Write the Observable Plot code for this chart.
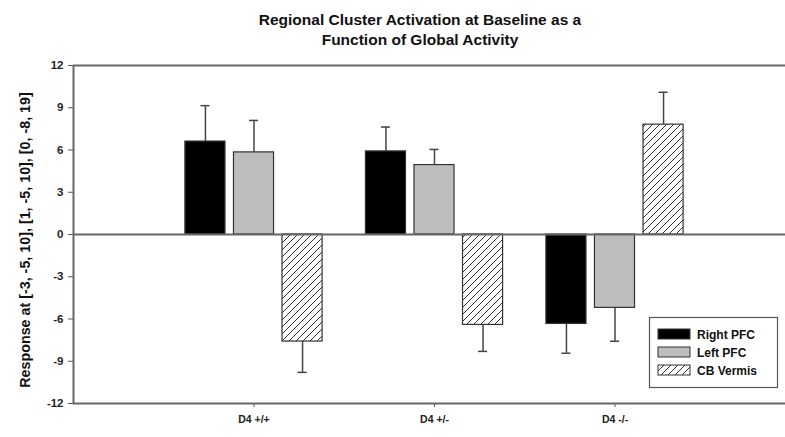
<!DOCTYPE html>
<html>
<head>
<meta charset="utf-8">
<script src="https://cdn.jsdelivr.net/npm/d3@7"></script>
<script src="https://cdn.jsdelivr.net/npm/@observablehq/plot@0.6"></script>
<style>
  body { margin: 0; background: #fff; }
  #chart svg { display: block; }
</style>
</head>
<body>
<div id="chart"></div>
<script>
const categories = ["D4 +/+", "D4 +/-", "D4 -/-"];
const series = ["Right PFC", "Left PFC", "CB Vermis"];
const rightPFC = [6.6, 5.9, -6.35];
const rightPFCErr = [2.55, 1.73, 2.08];
const leftPFC = [5.83, 4.93, -5.21];
const leftPFCErr = [2.27, 1.11, 2.37];
const cbVermis = [-7.6, -6.42, 7.8];
const cbVermisErr = [2.19, 1.88, 2.3];
const yTicks = [-12, -9, -6, -3, 0, 3, 6, 9, 12];
const title = ["Regional Cluster Activation at Baseline as a", "Function of Global Activity"];
const yLabel = "Response at [-3, -5, 10], [1, -5, 10], [0, -8, 19]";

const fills = ["#000000", "#bdbdbd", "url(#hatch)"];
const offsets = [-0.269, 0, 0.269];
const halfW = 0.111;
const capW = 0.025;

const values = [rightPFC, leftPFC, cbVermis];
const errs = [rightPFCErr, leftPFCErr, cbVermisErr];
const data = [];
series.forEach((s, si) => {
  categories.forEach((c, ci) => {
    const v = values[si][ci];
    const e = errs[si][ci];
    const xc = ci + 1 + offsets[si];
    data.push({series: s, category: c, value: v, end: v + Math.sign(v) * e, xc, x1: xc - halfW, x2: xc + halfW, fill: fills[si]});
  });
});

const W = 785, H = 437;
const mL = 73, mR = 0, mT = 65, mB = 34;
const spacing = 180.5;
const xMax = (W - mL - mR) / spacing;

const font = "'Liberation Sans', Arial, sans-serif";

const chart = Plot.plot({
  width: W,
  height: H,
  marginLeft: mL,
  marginRight: mR,
  marginTop: mT,
  marginBottom: mB,
  style: {fontFamily: font, background: "#fff"},
  x: {domain: [0, xMax]},
  y: {domain: [-12, 12]},
  marks: [
    Plot.axisY({ticks: yTicks, tickSize: 5, tickPadding: 5, tickFormat: d => String(d), fontSize: 11.5, fontWeight: "bold", stroke: "#555", fill: "#222", label: null}),
    Plot.axisX({ticks: [1, 2, 3], tickSize: 4, tickPadding: 8, tickFormat: d => categories[d - 1], fontSize: 10.5, fontWeight: "bold", stroke: "#555", fill: "#222", label: null}),
    Plot.rect(data, {x1: "x1", x2: "x2", y1: 0, y2: "value", fill: "fill", stroke: "#333", strokeWidth: 1.2}),
    Plot.ruleX(data, {x: "xc", y1: "value", y2: "end", stroke: "#444", strokeWidth: 1.5}),
    Plot.ruleY(data, {y: "end", x1: d => d.xc - capW, x2: d => d.xc + capW, stroke: "#444", strokeWidth: 1.5}),
    Plot.ruleY([0], {stroke: "#666", strokeWidth: 2}),
    Plot.ruleY([-12, 12], {stroke: "#666", strokeWidth: 2}),
    Plot.ruleX([0], {stroke: "#666", strokeWidth: 2})
  ]
});

const svg = d3.select(chart);
const defs = svg.insert("defs", ":first-child");
const pat = defs.append("pattern").attr("id", "hatch").attr("patternUnits", "userSpaceOnUse").attr("width", 7).attr("height", 7);
pat.append("rect").attr("width", 7).attr("height", 7).attr("fill", "#fff");
pat.append("path").attr("d", "M-1,1 l2,-2 M0,7 l7,-7 M6,8 l2,-2").attr("stroke", "#333").attr("stroke-width", 1);

// title
const tg = svg.append("g").attr("font-family", font).attr("font-weight", "bold").attr("font-size", 15.5).attr("fill", "#111").attr("text-anchor", "middle");
title.forEach((t, i) => tg.append("text").attr("x", 420).attr("y", 25 + i * 20).text(t));

// y label
svg.append("text").attr("transform", `translate(30,${(mT + H - mB) / 2 + 6}) rotate(-90)`)
  .attr("text-anchor", "middle").attr("font-family", font).attr("font-weight", "bold").attr("font-size", 14.3).attr("fill", "#111")
  .text(yLabel);

// legend
const lg = svg.append("g").attr("font-family", font).attr("font-weight", "bold").attr("font-size", 12).attr("fill", "#111").attr("text-anchor", "start");
lg.append("rect").attr("x", 649.5).attr("y", 317.5).attr("width", 128).attr("height", 70).attr("fill", "#fff").attr("stroke", "#555").attr("stroke-width", 1.2);
series.forEach((s, i) => {
  const y = 329 + i * 18;
  lg.append("rect").attr("x", 658).attr("y", y).attr("width", 32).attr("height", 10).attr("fill", fills[i]).attr("stroke", "#333").attr("stroke-width", 1);
  lg.append("text").attr("x", 697).attr("y", y + 9.5).text(s);
});

document.getElementById("chart").appendChild(chart);
</script>
</body>
</html>
